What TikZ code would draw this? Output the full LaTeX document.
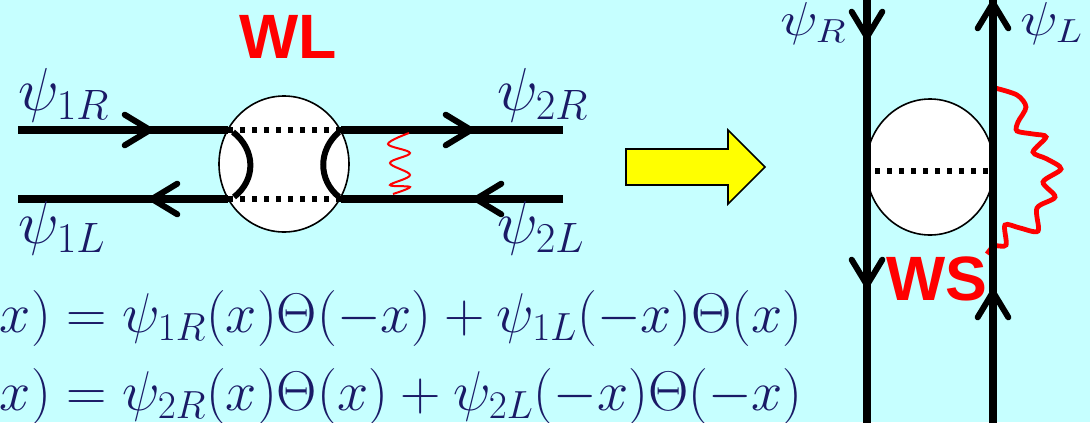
\documentclass[tikz,border=0pt]{standalone}
\usepackage{fix-cm}
\usepackage{amsmath}
\usepackage{xcolor}
\usepackage{fontspec}
\setsansfont{Liberation Sans}
\usepackage{tikz}
\usetikzlibrary{arrows.meta}
\definecolor{slidecyan}{HTML}{C6FFFF}
\definecolor{psinavy}{HTML}{1A1A66}
\definecolor{flowyellow}{HTML}{FFFF00}

\begin{document}
\begin{tikzpicture}[
  x=0.75pt,y=-0.75pt,
  >={Straight Barb[length=19pt,width=23pt,line width=4.5pt,round]},
  fline/.style={line width=6pt},
  cutline/.style={line width=4.5pt,dash pattern=on 4pt off 5pt},
  archline/.style={line width=4.5pt},
  psilab/.style={text=psinavy,font=\fontsize{45.5}{45.5}\selectfont,inner sep=0pt,anchor=base west},
  psilow/.style={text=psinavy,font=\fontsize{42}{42}\selectfont,inner sep=0pt,anchor=base west},
  eqlab/.style={text=psinavy,font=\fontsize{42}{42}\selectfont,inner sep=0pt,anchor=base east},
  redlab/.style={text=red,font=\fontsize{47}{47}\selectfont\sffamily\bfseries,inner sep=0pt,anchor=base}]

  \useasboundingbox[fill=slidecyan] (0,0) rectangle (1090,422);

  % WL diagram
  \coordinate (ul) at (18,130);
  \coordinate (ua) at (153,130);
  \coordinate (uc) at (228,130);
  \coordinate (ud) at (341,130);
  \coordinate (ub) at (474,130);
  \coordinate (ur) at (563,130);
  \coordinate (ll) at (18,199);
  \coordinate (la) at (149,199);
  \coordinate (lc) at (228,199);
  \coordinate (ld) at (341,199);
  \coordinate (lb) at (473,199);
  \coordinate (lr) at (563,199);

  \draw[fill=white,line width=1.2pt] (284,164) ellipse (65 and 68);
  \draw[fline] (ul)--(uc);
  \draw[fline,->] (ul)--(ua);
  \draw[fline] (ud)--(ur);
  \draw[fline,->] (ud)--(ub);
  \draw[fline] (lc)--(ll);
  \draw[fline,->] (lc)--(la);
  \draw[fline] (lr)--(ld);
  \draw[fline,->] (lr)--(lb);
  \draw[cutline] (uc)--(ud);
  \draw[cutline] (lc)--(ld);
  \draw[archline] (233,132) .. controls (256,150) and (256,180) .. (234,197);
  \draw[archline] (339,132) .. controls (318,150) and (318,180) .. (339,197);
  \draw[red,line width=1.5pt] plot[smooth,tension=0.6] coordinates {(409,133) (388,144) (410,153) (390,163) (410,175) (390,185) (410,187) (393,194)};

  \node[psilab] (p1r) at (18,110) {$\psi_{1R}$};
  \node[psilab] (p2r) at (497,110) {$\psi_{2R}$};
  \node[psilab] (p1l) at (18,243) {$\psi_{1L}$};
  \node[psilab] (p2l) at (497,243) {$\psi_{2L}$};
  \node[redlab] (wl) at (288,58) {WL};

  % yellow arrow
  \draw[fill=flowyellow,line width=1.2pt] (626,149)--(728,149)--(728,130)--(765,167)--(728,204)--(728,185)--(626,185)--cycle;

  % WS diagram
  \coordinate (rt) at (867,-5);
  \coordinate (ra) at (867,40);
  \coordinate (rb) at (867,288);
  \coordinate (re) at (867,427);
  \coordinate (st) at (993,0);
  \coordinate (sb) at (993,289);
  \coordinate (se) at (993,427);

  \draw[fill=white,line width=1.2pt] (930,167) ellipse (64 and 68);
  \draw[red,line width=3.6pt] plot[smooth,tension=0.5] coordinates {(995,88) (1017,95) (1026,107) (1018,122) (1017,131) (1033,134) (1046,137) (1033,152) (1047,159) (1061,169) (1043,182) (1055,197) (1037,208) (1038,231) (1020,228) (1005,225) (1006,245) (994,246) (987,254)};
  \draw[fline] (rt)--(re);
  \draw[fline,->] (rt)--(ra);
  \draw[fline,->] (rt)--(rb);
  \draw[fline] (se)--(st);
  \draw[fline,->] (se)--(sb);
  \draw[fline,->] (sb)--(st);
  \draw[cutline] (863,171)--(997,171);

  \node[psilow] (pr) at (780,35) {\scalebox{1}[.85]{$\psi_R$}};
  \node[psilow] (pl) at (1020,35) {\scalebox{1}[.85]{$\psi_L$}};
  \node[redlab] (ws) at (937,300) {WS};

  % fields
  \node[eqlab] (eqa) at (803,332) {$x)=\psi_{1R}(x)\Theta(-x)+\psi_{1L}(-x)\Theta(x)$};
  \node[eqlab] (eqb) at (803,410) {$x)=\psi_{2R}(x)\Theta(x)+\psi_{2L}(-x)\Theta(-x)$};
\end{tikzpicture}
\end{document}
